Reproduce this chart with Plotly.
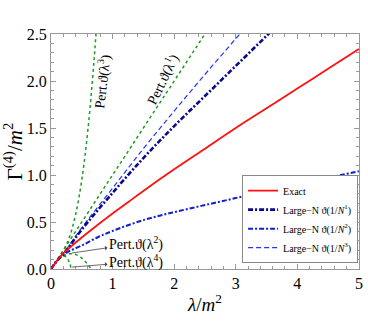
import plotly.graph_objects as go

# values
lam_exact = [0, 0.1, 0.2, 0.3, 0.5, 0.75, 1.0, 1.25, 1.5, 2.0, 2.5, 3.0, 3.5, 4.0, 4.5, 5.0]
gam_exact = [0, 0.09, 0.165, 0.225, 0.335, 0.465, 0.59, 0.71, 0.83, 1.06, 1.28, 1.5, 1.71, 1.92, 2.13, 2.34]

lam_n1 = [0, 0.1, 0.25, 0.5, 1.0, 1.5, 2.0, 2.5, 3.0, 3.5, 4.0]
gam_n1 = [0, 0.09, 0.2, 0.42, 0.81, 1.18, 1.52, 1.84, 2.16, 2.48, 2.8]

lam_n2 = [0, 0.1, 0.27, 0.5, 0.75, 1.0, 1.5, 2.0, 2.5, 3.0, 3.5, 4.0, 4.5, 5.0]
gam_n2 = [0, 0.09, 0.18, 0.25, 0.335, 0.405, 0.52, 0.605, 0.68, 0.755, 0.83, 0.9, 0.97, 1.04]

lam_n3 = [0, 0.1, 0.25, 0.5, 1.0, 1.5, 2.0, 2.5, 3.0, 3.5]
gam_n3 = [0, 0.09, 0.21, 0.44, 0.86, 1.28, 1.68, 2.07, 2.45, 2.83]

lam_p1 = [0, 2.6]
gam_p1 = [0, 2.6]

lam_p2 = [0, 0.1, 0.2, 0.3, 0.4, 0.5, 0.6, 0.65, 0.7]
gam_p2 = [0, 0.085, 0.138, 0.161, 0.154, 0.115, 0.046, 0.0, -0.055]

lam_p3 = [0, 0.1, 0.2, 0.3, 0.4, 0.5, 0.6, 0.7, 0.75]
gam_p3 = [0, 0.092, 0.191, 0.341, 0.58, 0.948, 1.485, 2.229, 2.694]

lam_p4 = [0, 0.1, 0.15, 0.2, 0.25, 0.3, 0.35]
gam_p4 = [0, 0.089, 0.121, 0.137, 0.126, 0.067, -0.06]

x_ticks = [0, 1, 2, 3, 4, 5]

serif = "Liberation Serif"
green = "#1f9a1f"

fig = go.Figure()

# perturbative curves (not in legend)
for xs, ys in [(lam_p1, gam_p1), (lam_p2, gam_p2), (lam_p3, gam_p3), (lam_p4, gam_p4)]:
    fig.add_trace(go.Scatter(x=xs, y=ys, mode="lines", showlegend=False,
                             line=dict(color=green, width=1.5, dash="dot", shape="spline")))

fig.add_trace(go.Scatter(x=lam_n3, y=gam_n3, mode="lines", name="Large−N ϑ(1/<i>N</i><sup>3</sup>)",
                         line=dict(color="#2233ff", width=1.2, dash="5px,3px", shape="spline")))
fig.add_trace(go.Scatter(x=lam_n2, y=gam_n2, mode="lines", name="Large−N ϑ(1/<i>N</i><sup>2</sup>)",
                         line=dict(color="#1020cc", width=2, dash="5px,2px,2px,2px", shape="spline")))
fig.add_trace(go.Scatter(x=lam_n1, y=gam_n1, mode="lines", name="Large−N ϑ(1/<i>N</i><sup>1</sup>)",
                         line=dict(color="#0a0a88", width=2.6, dash="5px,2px,2px,2px", shape="spline")))
fig.add_trace(go.Scatter(x=lam_exact, y=gam_exact, mode="lines", name="Exact",
                         line=dict(color="#ff1010", width=1.8, shape="spline")))

annots = [
    dict(x=0.82, y=2.0, text="Pert.ϑ(λ<sup>3</sup>)", textangle=-83, showarrow=False),
    dict(x=1.8, y=2.02, text="Pert.ϑ(λ<sup>1</sup>)", textangle=-64, showarrow=False),
    dict(x=0.34, y=0.17, ax=1.38, ay=0.27, axref="x", ayref="y", text="Pert.ϑ(λ<sup>2</sup>)",
         showarrow=True, arrowside="start", arrowhead=2, arrowsize=1, arrowwidth=0.8, arrowcolor="#444"),
    dict(x=0.34, y=0.02, ax=1.38, ay=0.075, axref="x", ayref="y", text="Pert.ϑ(λ<sup>4</sup>)",
         showarrow=True, arrowside="start", arrowhead=2, arrowsize=1, arrowwidth=0.8, arrowcolor="#444"),
]
for a in annots:
    a["font"] = dict(family=serif, size=14, color="black")
    fig.add_annotation(**a)

axis_common = dict(showline=True, linecolor="#999", linewidth=1, mirror="ticks", ticks="inside",
                   ticklen=5, tickcolor="#999", showgrid=False, zeroline=False,
                   tickfont=dict(family=serif, size=16, color="black"))

fig.update_xaxes(range=[0, 5.002], tickvals=x_ticks, ticktext=[str(t) for t in x_ticks],
                 ticklabeloverflow="allow",
                 minor=dict(dtick=0.2, tick0=0, ticks="inside", ticklen=3, tickcolor="#999"),
                 title=dict(text="<i>λ</i>/<i>m</i><sup>2</sup>", font=dict(family=serif, size=19, color="black"),
                            standoff=6),
                 **axis_common)
fig.update_yaxes(range=[0, 2.5], dtick=0.5, tick0=0, tickformat=".1f",
                 minor=dict(dtick=0.1, ticks="inside", ticklen=3, tickcolor="#999"),
                 title=dict(text="Γ<sup>(4)</sup>/<i>m</i><sup>2</sup>", font=dict(family=serif, size=21, color="black"),
                            standoff=4),
                 **axis_common)

fig.update_layout(
    width=368, height=327,
    margin=dict(l=51, r=5, t=34, b=58),
    plot_bgcolor="white", paper_bgcolor="white",
    legend=dict(x=0.997, xanchor="right", y=0.025, yanchor="bottom", traceorder="reversed",
                bgcolor="white", bordercolor="#888", borderwidth=1,
                font=dict(family=serif, size=10, color="black"),
                tracegroupgap=0, itemwidth=30),
)

# drop the default page margin so the figure sits at the window's corner
fig.write_html("out.html", config={"displayModeBar": False},
               post_script="document.body.style.margin='0';")
